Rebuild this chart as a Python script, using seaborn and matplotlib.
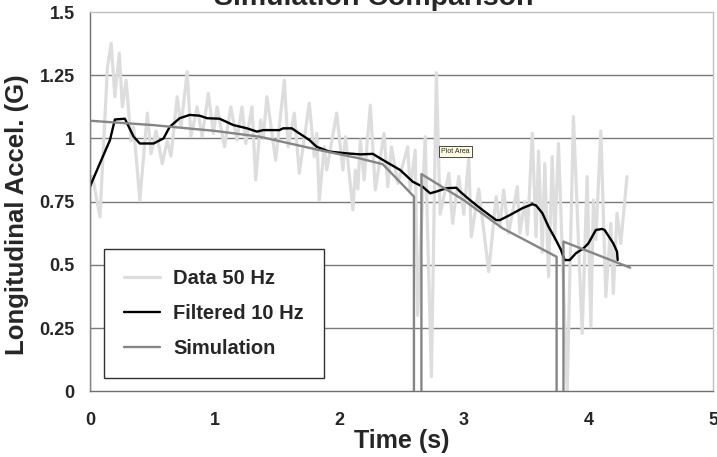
import numpy as np
import pandas as pd
import matplotlib
matplotlib.use("Agg")
import matplotlib.pyplot as plt
import seaborn as sns

# ── Data ─────────────────────────────────────────────────────────────────────
data_t = [0.0, 0.02, 0.08, 0.14, 0.17, 0.20, 0.235, 0.26, 0.29, 0.33, 0.35, 0.40,
          0.46, 0.49, 0.53, 0.58, 0.62, 0.65, 0.70, 0.73, 0.78, 0.81, 0.86, 0.90,
          0.95, 0.99, 1.02, 1.08, 1.13, 1.18, 1.22, 1.25, 1.30, 1.33, 1.37, 1.39,
          1.42, 1.49, 1.56, 1.59, 1.64, 1.68, 1.76, 1.80, 1.82, 1.84, 1.88, 1.90,
          1.98, 2.03, 2.05, 2.11, 2.13, 2.15, 2.17, 2.20, 2.25, 2.29, 2.36, 2.39,
          2.42, 2.47, 2.55, 2.57, 2.61, 2.63, 2.69, 2.74, 2.78, 2.81, 2.88, 2.91,
          2.96, 3.00, 3.04, 3.06, 3.12, 3.20, 3.26, 3.29, 3.32, 3.36, 3.43, 3.45,
          3.49, 3.51, 3.55, 3.58, 3.60, 3.63, 3.65, 3.68, 3.71, 3.73, 3.76, 3.83,
          3.88, 3.95, 3.99, 4.02, 4.04, 4.06, 4.10, 4.14, 4.18, 4.20, 4.23, 4.26,
          4.31]
data_g = [0.80, 0.85, 0.69, 1.28, 1.376, 1.165, 1.337, 1.125, 1.23, 0.99, 1.046, 0.756,
          1.10, 0.94, 1.03, 0.90, 0.99, 0.93, 1.165, 1.046, 1.264, 1.007, 1.125, 1.007,
          1.178, 1.02, 1.125, 0.967, 1.125, 0.994, 1.125, 0.98, 1.125, 0.836, 1.073, 1.00,
          1.165, 0.914, 1.23, 0.967, 1.10, 0.862, 1.14, 0.928, 1.02, 0.756, 0.967, 0.875,
          1.10, 0.875, 1.007, 0.717, 0.875, 0.80, 0.994, 0.836, 1.132, 0.796, 1.02, 0.809,
          0.967, 0.822, 0.967, 0.796, 0.954, 0.30, 1.007, 0.058, 1.26, 0.70, 0.862, 0.664,
          0.85, 0.70, 0.921, 0.611, 0.80, 0.473, 0.77, 0.65, 0.796, 0.625, 0.809, 0.625,
          0.75, 0.62, 1.02, 0.611, 0.95, 0.55, 0.90, 0.453, 0.928, 0.60, 0.98, 0.0,
          1.086, 0.229, 0.849, 0.255, 0.756, 0.60, 1.03, 0.374, 0.664, 0.387, 0.704, 0.585,
          0.849]

filt_t = [0.0, 0.08, 0.16, 0.20, 0.28, 0.35, 0.40, 0.51, 0.59, 0.64, 0.72, 0.80,
          0.88, 0.94, 1.04, 1.15, 1.26, 1.34, 1.39, 1.52, 1.55, 1.62, 1.68, 1.76,
          1.82, 1.92, 2.06, 2.17, 2.27, 2.35, 2.49, 2.59, 2.67, 2.73, 2.78, 2.86,
          2.94, 2.97, 3.05, 3.15, 3.26, 3.29, 3.37, 3.47, 3.55, 3.58, 3.63, 3.68,
          3.74, 3.78, 3.81, 3.85, 3.90, 3.96, 4.00, 4.06, 4.11, 4.13, 4.20, 4.23,
          4.235]
filt_g = [0.81, 0.902, 0.993, 1.075, 1.078, 1.007, 0.98, 0.98, 1.00, 1.046, 1.08, 1.093,
          1.09, 1.08, 1.078, 1.053, 1.04, 1.027, 1.033, 1.033, 1.04, 1.04, 1.02, 0.994,
          0.967, 0.948, 0.941, 0.937, 0.939, 0.915, 0.875, 0.829, 0.809, 0.783, 0.79, 0.803,
          0.805, 0.79, 0.756, 0.717, 0.677, 0.677, 0.697, 0.724, 0.74, 0.735, 0.705, 0.651,
          0.598, 0.559, 0.519, 0.519, 0.546, 0.565, 0.585, 0.638, 0.642, 0.638, 0.585, 0.552,
          0.519]

sim_t = [0.0, 0.0, 0.5, 1.0, 1.36, 1.84, 2.165, 2.35, 2.60, 2.60, 2.66, 2.66,
         3.0, 3.31, 3.745, 3.745, 3.80, 3.80, 4.335]
sim_g = [-0.3, 1.07, 1.053, 1.03, 1.007, 0.954, 0.921, 0.898, 0.77, -0.3, -0.3, 0.859,
         0.756, 0.645, 0.532, -0.3, -0.3, 0.592, 0.489]

series_names = ["Data 50 Hz", "Filtered 10 Hz", "Simulation"]
y_ticks = [0, 0.25, 0.5, 0.75, 1, 1.25, 1.5]
y_labels = ["0", "0.25", "0.5", "0.75", "1", "1.25", "1.5"]
x_ticks = [0, 1, 2, 3, 4, 5]

# ── Style ────────────────────────────────────────────────────────────────────
sns.set_style("white")
plt.rcParams["font.family"] = ["Liberation Sans", "DejaVu Sans"]
plt.rcParams["font.weight"] = "bold"

fig = plt.figure(figsize=(7.17, 4.57), dpi=100)
ax = fig.add_axes([0.1255, 0.1438, 0.8689, 0.8299])

sns.lineplot(x=data_t, y=data_g, ax=ax, estimator=None, sort=False,
             color="#dddddd", linewidth=2.3, label=series_names[0], zorder=2)
sns.lineplot(x=filt_t, y=filt_g, ax=ax, estimator=None, sort=False,
             color="black", linewidth=1.7, label=series_names[1], zorder=3)
sns.lineplot(x=sim_t, y=sim_g, ax=ax, estimator=None, sort=False,
             color="#858585", linewidth=1.7, label=series_names[2], zorder=4)

ax.set_xlim(0, 5)
ax.set_ylim(0, 1.5)
ax.set_yticks(y_ticks)
ax.set_yticklabels(y_labels)
ax.set_xticks(x_ticks)
ax.set_xticklabels([str(v) for v in x_ticks])
for y in y_ticks[1:-1]:
    ax.axhline(y, color="#7a7a7a", linewidth=1.0, zorder=1)

for side in ["left", "bottom"]:
    ax.spines[side].set_color("#707070")
    ax.spines[side].set_linewidth(1.0)
for side in ["top", "right"]:
    ax.spines[side].set_color("#c0c0c0")
    ax.spines[side].set_linewidth(1.0)

ax.tick_params(axis="both", direction="out", length=5, width=1, color="#707070",
               labelsize=13)
ax.tick_params(axis="x", pad=10)
ax.tick_params(axis="y", pad=6)
for lab in ax.get_xticklabels() + ax.get_yticklabels():
    lab.set_fontweight("bold")

ax.set_xlabel("")
ax.set_ylabel("")
fig.text(0.561, 0.035, "Time (s)", ha="center", va="center",
         fontsize=18, fontweight="bold")
fig.text(0.024, 0.53, "Longitudinal Accel. (G)", ha="center", va="center",
         rotation=90, fontsize=18.5, fontweight="bold")
fig.text(0.5216, 0.989, "Simulation Comparison", ha="center", va="baseline",
         fontsize=20.5, fontweight="bold")

leg = ax.legend(loc="lower left", bbox_to_anchor=(0.0225, 0.035), borderaxespad=0,
                frameon=True, fancybox=False, shadow=False,
                handlelength=1.8, handletextpad=0.65, borderpad=1.0,
                labelspacing=0.78, prop={"weight": "bold", "size": 14.5})
leg.get_frame().set_edgecolor("#303030")
leg.get_frame().set_linewidth(1.0)
leg.get_frame().set_facecolor("white")
leg.get_frame().set_alpha(1.0)

# excel tooltip that was captured in the screenshot
fig.text(0.6153, 0.6684, "Plot Area", ha="left", va="center", fontsize=5,
         fontweight="normal",
         bbox=dict(boxstyle="square,pad=0.25", facecolor="#ffffe1",
                   edgecolor="black", linewidth=0.5))

plt.savefig("out.png", dpi=100, facecolor="white")
